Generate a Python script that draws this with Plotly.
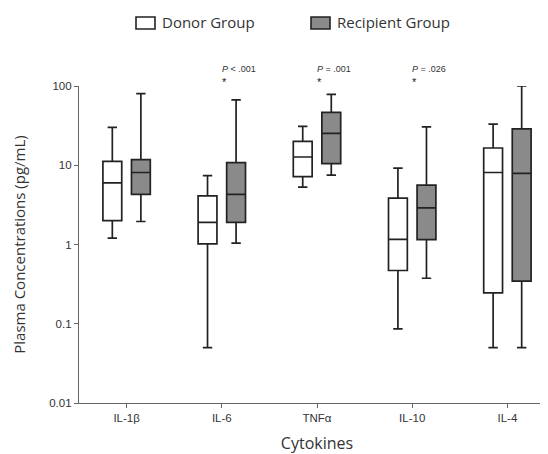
import plotly.graph_objects as go

categories = ["IL-1β", "IL-6", "TNFα", "IL-10", "IL-4"]

donor_min = [1.2, 0.05, 5.3, 0.086, 0.05]
donor_q1 = [2.0, 1.02, 7.2, 0.47, 0.245]
donor_median = [6.0, 1.9, 12.7, 1.16, 8.1]
donor_q3 = [11.2, 4.1, 20.0, 3.85, 16.5]
donor_max = [30.0, 7.4, 31.0, 9.2, 33.0]

recip_min = [1.95, 1.04, 7.5, 0.375, 0.05]
recip_q1 = [4.3, 1.9, 10.5, 1.15, 0.345]
recip_median = [8.1, 4.3, 25.2, 2.9, 7.9]
recip_q3 = [11.8, 10.8, 46.5, 5.6, 28.8]
recip_max = [80.0, 67.0, 78.5, 30.5, 100.0]

p_labels = ["", "<i>P</i> < .001", "<i>P</i> = .001", "<i>P</i> = .026", ""]
group_names = ["Donor Group", "Recipient Group"]
group_fills = ["white", "#8a8a8a"]

fig = go.Figure()
fig.add_trace(go.Box(
    name=group_names[0], x=categories,
    q1=donor_q1, median=donor_median, q3=donor_q3,
    lowerfence=donor_min, upperfence=donor_max,
    fillcolor=group_fills[0], line=dict(color="#222222", width=1.7),
    whiskerwidth=0.5, boxpoints=False,
))
fig.add_trace(go.Box(
    name=group_names[1], x=categories,
    q1=recip_q1, median=recip_median, q3=recip_q3,
    lowerfence=recip_min, upperfence=recip_max,
    fillcolor=group_fills[1], line=dict(color="#222222", width=1.7),
    whiskerwidth=0.5, boxpoints=False,
))

for i, lab in enumerate(p_labels):
    if not lab:
        continue
    fig.add_annotation(x=i - 0.02, y=1.054, xref="x", yref="paper", text=lab,
                       showarrow=False, xanchor="left", yanchor="middle",
                       font=dict(family="Liberation Sans, Arial", size=9, color="#333333"))
    fig.add_annotation(x=i - 0.02, y=1.014, xref="x", yref="paper", text="*",
                       showarrow=False, xanchor="left", yanchor="middle",
                       font=dict(family="Liberation Sans, Arial", size=11, color="#222222"))

# manual legend (positions in paper coordinates)
leg_x = [(128 - 71) / 476, (303 - 71) / 476]
icon_w = 19 / 476
for xx, name, fill in zip(leg_x, group_names, group_fills):
    fig.add_shape(type="rect", xref="paper", yref="paper",
                  x0=xx, x1=xx + icon_w, y0=(403 - 29) / 317, y1=(403 - 17) / 317,
                  fillcolor=fill, line=dict(color="#222222", width=1.6))
    fig.add_annotation(x=xx + icon_w + 5 / 476, y=(403 - 22) / 317, xref="paper", yref="paper",
                       text=name, showarrow=False, xanchor="left", yanchor="middle",
                       font=dict(family="Open Sans", size=15, color="#333333"))

fig.update_layout(
    width=548, height=446,
    margin=dict(l=71, r=1, t=78, b=51, autoexpand=False),
    paper_bgcolor="white", plot_bgcolor="white",
    boxmode="group", boxgap=0.4, boxgroupgap=0.34,
    font=dict(family="Open Sans, Noto Sans", color="#333333"),
    showlegend=False,
)
fig.update_xaxes(
    range=[-0.5, 4.5], showline=True, linecolor="#666666", linewidth=1.2,
    ticks="outside", ticklen=4, tickcolor="#666666", showgrid=False, zeroline=False,
    tickfont=dict(family="Liberation Sans, Arial", size=11.5, color="#333333"),
    automargin=False,
    title=dict(text="Cytokines", font=dict(family="Open Sans", size=16, color="#333333"), standoff=15),
)
fig.update_yaxes(
    type="log", range=[-2, 2], showline=True, linecolor="#666666", linewidth=1.2,
    ticks="outside", ticklen=4, tickcolor="#666666", showgrid=False, zeroline=False,
    tickvals=[0.01, 0.1, 1, 10, 100], ticktext=["0.01", "0.1", "1", "10", "100"],
    tickfont=dict(family="Liberation Sans, Arial", size=11.5, color="#333333"),
    automargin=False,
    title=dict(text="Plasma Concentrations (pg/mL)", font=dict(family="Open Sans", size=15, color="#333333"), standoff=19),
)

fig.write_html("out.html")
